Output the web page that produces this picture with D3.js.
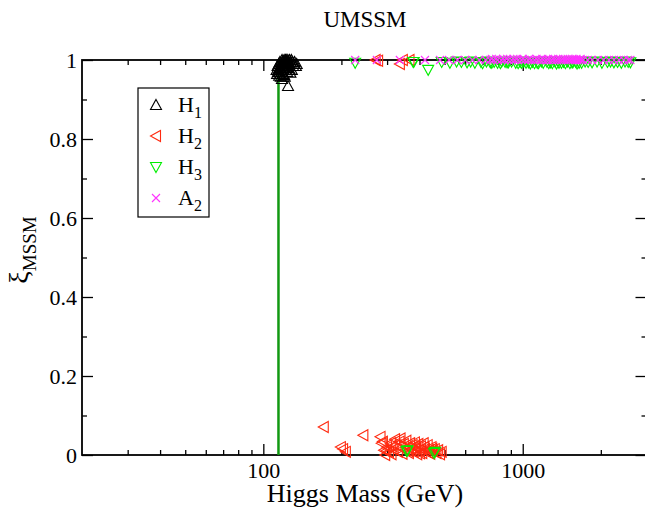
<!DOCTYPE html>
<html><head><meta charset="utf-8">
<script src="https://cdn.jsdelivr.net/npm/d3@7"></script>
<style>body{margin:0;background:#fff}svg{display:block}svg text{font-family:"Liberation Serif","Times New Roman",serif !important;fill:#000}</style>
</head><body><svg id="c" width="645" height="511"></svg>
<script>
// ---- data ----
const title = "UMSSM";
const xLabel = "Higgs Mass (GeV)";
const xDomain = [20, 3000];
const yDomain = [0, 1];
const xMajor = [100, 1000];
const xMinor = [30, 40, 50, 60, 70, 80, 90, 200, 300, 400, 500, 600, 700, 800, 900, 2000, 3000];
const yMajor = [0, 0.2, 0.4, 0.6, 0.8, 1];
const yMinor = [0.1, 0.3, 0.5, 0.7, 0.9];
const lepBound = 114.4;

const h1Mass = [113.5,114.2,114.8,115.3,115.9,116.4,117.0,117.5,118.1,118.6,119.2,119.8,120.3,120.9,121.4,122.0,122.6,123.1,123.7,124.3,124.9,125.5,126.2,126.9,127.6,128.3,116.2,117.8,119.5,121.1,122.8,124.6,126.5,118.3,120.0,121.8,123.5,125.3,115.1,119.0,114.0,115.6,117.2,119.3,120.5,129.5,131.0,133.5,122.3,124.0,126.0,118.0,124.5,120.2,112.5,113.0,130.2,132.0,134.5,128.8,127.2,121.0,116.8];
const h1Xi   = [0.985,0.975,0.99,0.97,0.995,0.98,0.99,0.975,1.0,0.985,0.995,0.98,1.0,0.99,0.985,0.995,1.0,0.98,0.99,1.0,0.995,0.985,1.0,0.99,0.995,1.0,0.965,0.97,0.975,0.99,0.98,0.985,0.975,0.995,0.99,1.0,0.97,0.99,0.96,0.965,0.97,0.98,0.985,0.995,0.98,0.995,0.99,0.985,0.975,0.98,0.99,0.952,0.934,0.962,0.975,0.965,0.985,0.995,0.99,0.975,0.968,0.958,0.958];

const h2Mass = [271,277,336,345,366, 171,199,203,208,243,283,286,289,292,295,300,305,310,312,318,322,326,330,335,340,344,348,352,356,360,364,368,372,376,380,384,388,392,396,400,405,410,415,420,425,430,435,440,445,450,458,465,472,480,487,298,315,338,362,386,402,418,432,448];
const h2Xi   = [1.0,0.998,0.99,1.0,1.0, 0.071,0.02,0.015,0.008,0.05,0.046,0.03,0.034,0.012,0.0,0.02,0.008,0.03,0.002,0.015,0.04,0.025,0.008,0.034,0.018,0.003,0.028,0.012,0.036,0.02,0.005,0.03,0.015,0.025,0.008,0.032,0.018,0.002,0.028,0.012,0.022,0.005,0.03,0.015,0.008,0.025,0.012,0.003,0.02,0.01,0.015,0.005,0.012,0.002,0.008,0.01,0.022,0.042,0.01,0.022,0.004,0.02,0.006,0.016];

const h3Mass = [226,378,432,380,487,524,556,580,610,630,654,690,725,750,776,800,830,855,880,906,940,977,1010,1052,1090,1138,1180,1240,1280,1333,1380,1437,1490,1549,1600,1687,1740,1787,1850,1935,2020,2121,2180,2246,2320,2400,2480,2550,2600,
  700,760,820,870,960,1030,1110,1200,1300,1410,1520,1650,1560,1150,990,1070,1260,1350,1460,1620, 357,360,455,459];
const h3Xi   = [0.993,0.995,0.975,0.995,0.995,0.993,0.996,0.995,0.994,0.996,0.993,0.995,0.996,0.994,0.995,0.993,0.996,0.995,0.994,0.996,0.993,0.995,0.996,0.994,0.995,0.993,0.996,0.995,0.994,0.996,0.993,0.995,0.996,0.994,0.995,0.993,0.996,0.995,0.994,0.996,0.993,0.995,0.996,0.994,0.995,0.993,0.996,0.995,0.994,
  0.992,0.993,0.992,0.994,0.992,0.993,0.992,0.993,0.992,0.993,0.992,0.993,0.994,0.992,0.993,0.991,0.992,0.991,0.992,0.991, 0.01,0.012,0.005,0.008];

const a2Mass = [226,274,336,420,480,520,560,600,640,680,720,748,770,800,825,850,880,905,930,960,990,1020,1050,1080,1110,1140,1170,1200,1230,1260,1290,1320,1350,1380,1410,1440,1470,1500,1530,1560,1590,1620,1650,1680,1710,1780,1850,1950,2050,2150,2250,2350,2450,2550,2600,
  760,790,840,870,920,950,1000,1060,1130,1190,1250,1310,1370,1430,1490,1550,1610,1670];
const a2Xi   = [1.0,1.0,1.0,1.0,1.0,1.0,1.0,1.0,1.0,1.0,1.0,1.0,1.0,1.0,1.0,1.0,1.0,1.0,1.0,1.0,1.0,1.0,1.0,1.0,1.0,1.0,1.0,1.0,1.0,1.0,1.0,1.0,1.0,1.0,1.0,1.0,1.0,1.0,1.0,1.0,1.0,1.0,1.0,1.0,1.0,1.0,1.0,1.0,1.0,1.0,1.0,1.0,1.0,1.0,1.0,
  1.003,1.003,1.003,1.003,1.003,1.003,1.003,1.003,1.003,1.003,1.003,1.003,1.003,1.003,1.003,1.003,1.003,1.003];

const series = [
  {name:"H", sub:"1", mass:h1Mass, xi:h1Xi, color:"#000000", shape:"up"},
  {name:"H", sub:"2", mass:h2Mass, xi:h2Xi, color:"#ff2a10", shape:"left"},
  {name:"H", sub:"3", mass:h3Mass, xi:h3Xi, color:"#00ee00", shape:"down"},
  {name:"A", sub:"2", mass:a2Mass, xi:a2Xi, color:"#ff33ff", shape:"x"}
];

// ---- chart ----
const svg = d3.select("#c");
const L = 82, R = 646.5, T = 60, B = 455;
const x = d3.scaleLog().domain(xDomain).range([L, R]);
const y = d3.scaleLinear().domain(yDomain).range([B, T]);

const shapes = {
  up:   "M0,-5.5L5.5,4.5L-5.5,4.5Z",
  left: "M-5.5,0L4.5,-5.5L4.5,5.5Z",
  down: "M0,5.5L5.5,-4.5L-5.5,-4.5Z",
  x:    "M-4,-4L4,4M-4,4L4,-4"
};

const serif = '"Liberation Serif","Times New Roman",serif';
function styleAxis(g){
  g.attr("font-family", serif);
  g.select(".domain").remove();
  g.selectAll("line").attr("stroke","#000").attr("stroke-width",1.3);
  g.selectAll("text").style("font-family", serif).style("font-size","22px");
}

const fmtY = d => d===0 ? "0" : d===1 ? "1" : d.toFixed(1);

// bottom
svg.append("g").attr("transform",`translate(0,${B})`)
  .call(d3.axisBottom(x).tickValues(xMajor).tickSize(-11).tickPadding(7).tickFormat(d3.format("d")))
  .call(styleAxis);
svg.append("g").attr("transform",`translate(0,${B})`)
  .call(d3.axisBottom(x).tickValues(xMinor).tickSize(-5).tickFormat(""))
  .call(styleAxis);
// top
svg.append("g").attr("transform",`translate(0,${T})`)
  .call(d3.axisTop(x).tickValues(xMajor).tickSize(-11).tickFormat(""))
  .call(styleAxis);
svg.append("g").attr("transform",`translate(0,${T})`)
  .call(d3.axisTop(x).tickValues(xMinor).tickSize(-5).tickFormat(""))
  .call(styleAxis);
// left
svg.append("g").attr("transform",`translate(${L},0)`)
  .call(d3.axisLeft(y).tickValues(yMajor).tickSize(-11).tickPadding(5).tickFormat(fmtY))
  .call(styleAxis);
svg.append("g").attr("transform",`translate(${L},0)`)
  .call(d3.axisLeft(y).tickValues(yMinor).tickSize(-5).tickFormat(""))
  .call(styleAxis);
// right
svg.append("g").attr("transform",`translate(${R},0)`)
  .call(d3.axisRight(y).tickValues(yMajor).tickSize(-11).tickFormat(""))
  .call(styleAxis);
svg.append("g").attr("transform",`translate(${R},0)`)
  .call(d3.axisRight(y).tickValues(yMinor).tickSize(-5).tickFormat(""))
  .call(styleAxis);

// frame
svg.append("rect").attr("x",L).attr("y",T).attr("width",R-L).attr("height",B-T)
  .attr("fill","none").attr("stroke","#000").attr("stroke-width",1.8);

// LEP bound line
svg.append("line").attr("x1",x(lepBound)).attr("x2",x(lepBound)).attr("y1",y(0)).attr("y2",y(1))
  .attr("stroke","#119911").attr("stroke-width",2.5);

// points
series.forEach(s=>{
  svg.append("g").selectAll("path").data(s.mass.map((m,i)=>[m,s.xi[i]])).join("path")
    .attr("transform",d=>`translate(${x(d[0])},${y(d[1])})`)
    .attr("d",shapes[s.shape]).attr("fill","none").attr("stroke",s.color).attr("stroke-width",1.1);
});

// legend
const lg = svg.append("g");
lg.append("rect").attr("x",138).attr("y",88).attr("width",71).attr("height",129)
  .attr("fill","#fff").attr("stroke","#000").attr("stroke-width",1.2);
series.forEach((s,i)=>{
  const cy = 105 + i*31;
  lg.append("path").attr("transform",`translate(156,${cy})`).attr("d",shapes[s.shape])
    .attr("fill","none").attr("stroke",s.color).attr("stroke-width",1.1);
  const t = lg.append("text").attr("x",178).attr("y",cy+7).style("font-size","22px");
  t.append("tspan").text(s.name);
  t.append("tspan").attr("dy",6).style("font-size","16px").text(s.sub);
});

// title
svg.append("text").attr("x",365).attr("y",27).attr("text-anchor","middle").style("font-size","23px").text(title);
// x label
svg.append("text").attr("x",365).attr("y",502).attr("text-anchor","middle").style("font-size","26px").text(xLabel);
// y label
const yl = svg.append("text").attr("transform","translate(28,250) rotate(-90)").attr("text-anchor","middle");
yl.append("tspan").style("font-size","28px").text("ξ");
yl.append("tspan").attr("dy",8).style("font-size","19px").text("MSSM");
</script></body></html>
